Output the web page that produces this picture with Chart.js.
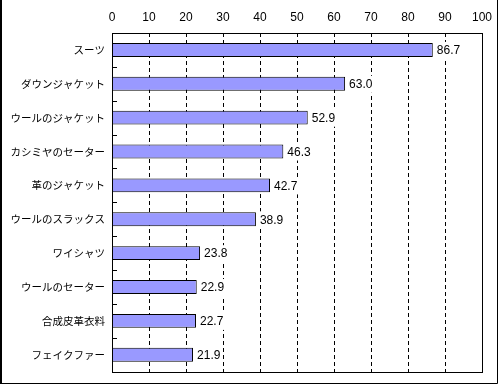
<!DOCTYPE html>
<html>
<head>
<meta charset="utf-8">
<script src="https://cdn.jsdelivr.net/npm/chart.js@4.4.1/dist/chart.umd.min.js"></script>
<style>
html,body{margin:0;padding:0;background:#fff;}
#wrap{position:relative;width:500px;height:385px;}
</style>
</head>
<body>
<div id="wrap"><canvas id="c" width="500" height="385"></canvas></div>
<script>
const categories = ["スーツ","ダウンジャケット","ウールのジャケット","カシミヤのセーター","革のジャケット","ウールのスラックス","ワイシャツ","ウールのセーター","合成皮革衣料","フェイクファー"];
const values = [86.7, 63.0, 52.9, 46.3, 42.7, 38.9, 23.8, 22.9, 22.7, 21.9];
const xTicks = [0,10,20,30,40,50,60,70,80,90,100];

const JP = '"Noto Sans CJK JP", sans-serif';

const framePlugin = {
  id: 'frame',
  beforeDatasetsDraw(chart) {
    const ctx = chart.ctx;
    const a = chart.chartArea;
    const xs = chart.scales.x;
    ctx.save();
    ctx.strokeStyle = '#000';
    ctx.lineWidth = 1;
    ctx.setLineDash([4, 3]);
    ctx.beginPath();
    xTicks.forEach(v => {
      if (v === xs.min || v === xs.max) return;
      const x = Math.round(xs.getPixelForValue(v)) + 0.5;
      ctx.moveTo(x, Math.round(a.top));
      ctx.lineTo(x, Math.round(a.bottom));
    });
    ctx.stroke();
    ctx.restore();
  },
  afterDatasetsDraw(chart) {
    const ctx = chart.ctx;
    const a = chart.chartArea;
    const ys = chart.scales.y;
    ctx.save();
    ctx.strokeStyle = '#000';
    ctx.lineWidth = 1;
    ctx.setLineDash([]);
    // value labels with white background
    ctx.font = '12px "Liberation Sans", sans-serif';
    ctx.textAlign = 'left';
    ctx.textBaseline = 'middle';
    const meta = chart.getDatasetMeta(0);
    meta.data.forEach((bar, i) => {
      const txt = values[i].toFixed(1);
      const w = ctx.measureText(txt).width;
      ctx.fillStyle = '#fff';
      ctx.fillRect(bar.x + 2, bar.y - 8, w + 4, 17);
      ctx.fillStyle = '#000';
      ctx.fillText(txt, bar.x + 4, bar.y + 1);
    });
    // plot box
    ctx.strokeRect(Math.round(a.left) + 0.5, Math.round(a.top) + 0.5, Math.round(a.right - a.left), Math.round(a.bottom - a.top));
    // inward category ticks
    ctx.beginPath();
    for (let i = 0; i < categories.length - 1; i++) {
      const yb = Math.round((ys.getPixelForTick(i) + ys.getPixelForTick(i + 1)) / 2) + 0.5;
      ctx.moveTo(Math.round(a.left), yb);
      ctx.lineTo(Math.round(a.left) + 5, yb);
    }
    ctx.stroke();
    // outer frame
    ctx.lineWidth = 2;
    ctx.beginPath();
    ctx.moveTo(1, 0);
    ctx.lineTo(1, 384);
    ctx.stroke();
    ctx.lineWidth = 1;
    ctx.beginPath();
    ctx.moveTo(0, 383.5);
    ctx.lineTo(497.5, 383.5);
    ctx.lineTo(497.5, 0);
    ctx.stroke();
    ctx.restore();
  }
};

new Chart(document.getElementById('c'), {
  type: 'bar',
  data: {
    labels: categories,
    datasets: [{
      data: values,
      backgroundColor: '#9999FF',
      borderColor: '#000',
      borderWidth: 1,
      borderSkipped: false,
      barPercentage: 0.41,
      categoryPercentage: 1.0
    }]
  },
  options: {
    indexAxis: 'y',
    responsive: false,
    animation: false,
    devicePixelRatio: 1,
    layout: { padding: { left: 0, right: 16, top: 0, bottom: 5 } },
    plugins: { legend: { display: false }, tooltip: { enabled: false } },
    scales: {
      x: {
        position: 'top',
        min: 0, max: 100,
        afterBuildTicks(scale) { scale.ticks = xTicks.map(v => ({ value: v })); },
        afterFit(scale) { scale.height = 33; },
        ticks: { color: '#000', font: { family: '"Liberation Sans", sans-serif', size: 12 }, padding: 8, maxRotation: 0 },
        grid: { display: false, drawTicks: false },
        border: { display: false }
      },
      y: {
        afterFit(scale) { scale.width = 112; },
        ticks: { color: '#000', font: { family: JP, size: 10.5 }, padding: 7 },
        grid: { display: false, drawTicks: false },
        border: { display: false }
      }
    }
  },
  plugins: [framePlugin]
});
</script>
</body>
</html>
